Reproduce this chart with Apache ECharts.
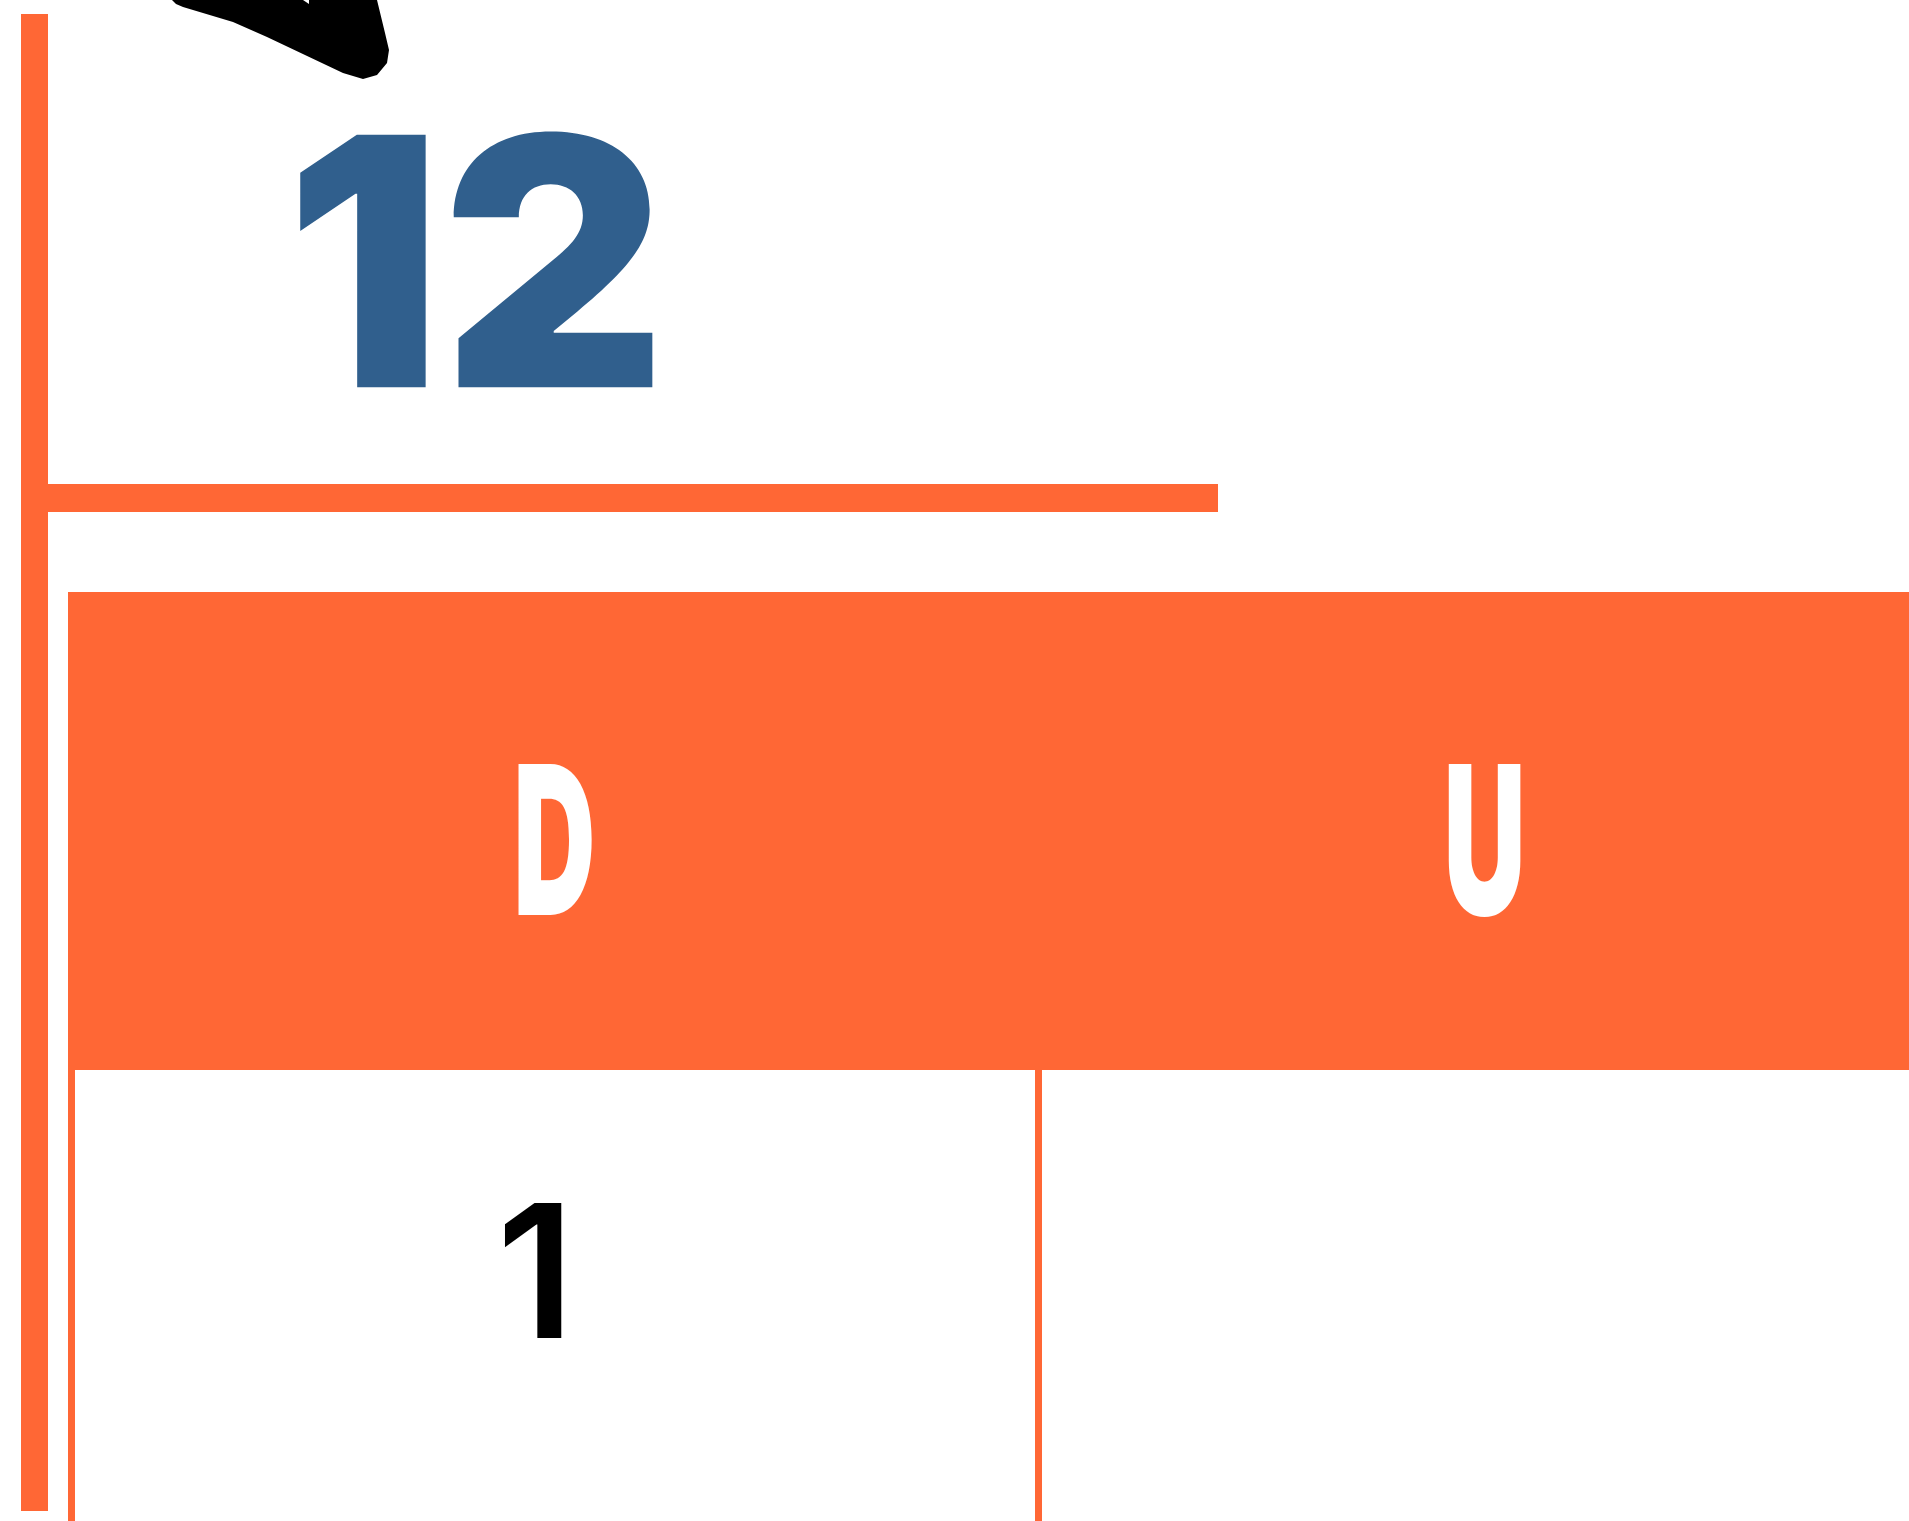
<!DOCTYPE html>
<html>
<head>
<meta charset="utf-8">
<title>Calendar 12</title>
<script src="https://cdn.jsdelivr.net/npm/echarts@6/dist/echarts.min.js"></script>
<style>
  html, body { margin: 0; padding: 0; background: #fff; overflow: hidden; }
  #chart { width: 1909px; height: 1521px; }
</style>
</head>
<body>
<div id="chart"></div>
<script>
// calendar data
const month = '12';
const weekdays = ['D', 'U'];
const rows = ['head', 'w1'];
const dayNumbers = ['1', ''];   // one per weekday, first week

const ORANGE = '#ff6735';
const BLUE = '#305f8d';

const chart = echarts.init(document.getElementById('chart'));

const headerData = weekdays.map((d, i) => [i, 0]);
const dayData = dayNumbers.map((d, i) => [i, 1]);

function renderHeader(params, api) {
  const c = api.coord([api.value(0), api.value(1)]);
  const s = api.size([1, 1]);
  // second column text sits a bit left of the cell centre
  const shift = params.dataIndex === 1 ? -37 : 0;
  return {
    type: 'group',
    children: [
      {
        type: 'rect',
        shape: { x: c[0] - s[0] / 2, y: c[1] - s[1] / 2, width: s[0], height: s[1] },
        style: { fill: ORANGE }
      },
      {
        type: 'text',
        x: c[0] + shift,
        y: c[1] + 22,
        scaleX: 0.55,
        style: {
          text: weekdays[params.dataIndex],
          fill: '#fff',
          fontFamily: 'Inter',
          fontWeight: 900,
          fontSize: 207,
          align: 'center',
          verticalAlign: 'middle'
        }
      }
    ]
  };
}

function renderDay(params, api) {
  const c = api.coord([api.value(0), api.value(1)]);
  return {
    type: 'text',
    x: c[0] - 19,
    y: c[1] - 27,
    style: {
      text: dayNumbers[params.dataIndex],
      fill: '#000',
      fontFamily: 'Inter',
      fontWeight: 600,
      fontSize: 185,
      align: 'center',
      verticalAlign: 'middle'
    }
  };
}

const option = {
  backgroundColor: '#fff',
  animation: false,
  grid: { left: 71, top: 592, width: 1934, height: 956, outerBoundsMode: 'none' },
  xAxis: {
    type: 'category',
    data: weekdays,
    axisLine: { show: false },
    axisTick: { show: false },
    axisLabel: { show: false },
    splitLine: { show: true, lineStyle: { color: ORANGE, width: 7 } }
  },
  yAxis: {
    type: 'category',
    data: rows,
    inverse: true,
    axisLine: { show: false },
    axisTick: { show: false },
    axisLabel: { show: false },
    splitLine: { show: false }
  },
  series: [
    { type: 'custom', renderItem: renderHeader, data: headerData, clip: false },
    { type: 'custom', renderItem: renderDay, data: dayData, clip: false }
  ],
  graphic: [
    // page frame
    { type: 'rect', shape: { x: 21, y: 14, width: 27, height: 1497 }, style: { fill: ORANGE } },
    { type: 'rect', shape: { x: 48, y: 484, width: 1170, height: 28 }, style: { fill: ORANGE } },
    // ring/arrow decoration at the top
    {
      type: 'polygon',
      shape: {
        points: [[172, 0], [176, 4], [183, 7], [233, 22], [267, 37], [343, 73], [363, 79],
                 [377, 75], [387, 63], [389, 50], [385, 33], [377, 0]]
      },
      style: { fill: '#000' }
    },
    { type: 'polygon', shape: { points: [[303, 0], [309, 0], [309, 4]] }, style: { fill: '#fff' } },
    // month number
    {
      type: 'text',
      x: 285,
      y: 283,
      style: {
        text: month,
        fill: BLUE,
        fontFamily: 'Inter',
        fontWeight: 900,
        fontSize: 347,
        align: 'left',
        verticalAlign: 'middle'
      }
    }
  ]
};

chart.setOption(option);
</script>
</body>
</html>
